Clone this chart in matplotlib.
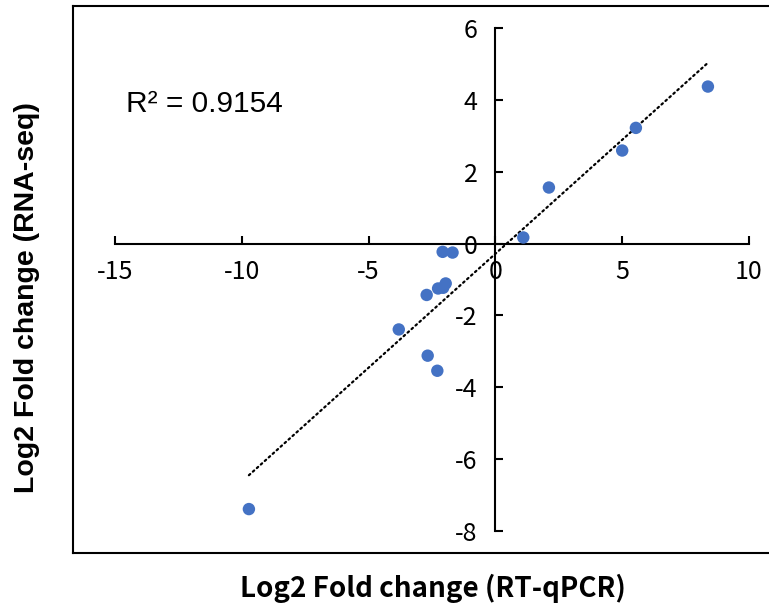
import numpy as np
import matplotlib
matplotlib.use("Agg")
import matplotlib.pyplot as plt
from matplotlib.lines import Line2D

plt.rcParams['axes.unicode_minus'] = False

# log2 fold change, RT-qPCR (x) vs RNA-seq (y)
qpcr = [8.38, 5.54, 5.00, 2.11, 1.10, -2.08, -1.69, -1.96, -2.26, -2.06,
        -2.71, -3.81, -2.67, -2.29, -9.72]
rnaseq = [4.37, 3.22, 2.59, 1.56, 0.17, -0.23, -0.25, -1.11, -1.25, -1.23,
          -1.43, -2.39, -3.12, -3.54, -7.39]
xticks = [-15, -10, -5, 0, 5, 10]
yticks = [-8, -6, -4, -2, 0, 2, 4, 6]
r2_text = "R² = 0.9154"

W, H = 769, 611
fig = plt.figure(figsize=(W / 100, H / 100), dpi=100)
ax = fig.add_axes([115 / W, (H - 531) / H, (749 - 115) / W, (531 - 28) / H])

# linear trendline over the data range
k, b = np.polyfit(qpcr, rnaseq, 1)
xs = np.array([min(qpcr), max(qpcr)])
ax.plot(xs, k * xs + b, color='black', lw=1.6, linestyle=(0, (0.8, 1.6)),
        dash_capstyle='round', zorder=2)
ax.scatter(qpcr, rnaseq, s=80, color='#4472C4', edgecolors='none', zorder=3)

ax.set_xlim(-15, 10)
ax.set_ylim(-8, 6)
for side in ['top', 'right']:
    ax.spines[side].set_visible(False)
for side in ['left', 'bottom']:
    ax.spines[side].set_position(('data', 0))
    ax.spines[side].set_linewidth(1.5)
ax.patch.set_alpha(0)

tick_font = dict(family=['Noto Sans CJK SC', 'DejaVu Sans'], size=18)
ax.set_xticks(xticks)
ax.set_xticklabels([str(t) for t in xticks], **tick_font)
ax.set_yticks(yticks)
ax.set_yticklabels([str(t) for t in yticks], **tick_font)
ax.tick_params(axis='both', direction='in', length=6, width=1.5, color='black')
ax.tick_params(axis='x', pad=11)
ax.tick_params(axis='y', pad=13)

ax.text(126 / W, 1 - 104 / H, r2_text, transform=fig.transFigure,
        family='Liberation Sans', fontsize=21.5, va='center', ha='left')

# chart area frame (right edge cut off in the original)
frame = dict(color='black', lw=1.5, transform=fig.transFigure)
fig.add_artist(Line2D([73 / W, 1.01], [1 - 6 / H, 1 - 6 / H], **frame))
fig.add_artist(Line2D([73 / W, 1.01], [1 - 553 / H, 1 - 553 / H], **frame))
fig.add_artist(Line2D([73 / W, 73 / W], [1 - 6 / H, 1 - 553 / H], **frame))

fig.text(433 / W, 1 - 588 / H, "Log2 Fold change (RT-qPCR)",
         family=['Noto Sans CJK SC', 'DejaVu Sans'], weight='bold',
         fontsize=20, ha='center', va='center')
fig.text(27 / W, 1 - 298 / H, "Log2 Fold change (RNA-seq)",
         family='Liberation Sans', weight='bold', fontsize=20.5,
         rotation=90, ha='center', va='center')

fig.savefig("out.png", dpi=100)
